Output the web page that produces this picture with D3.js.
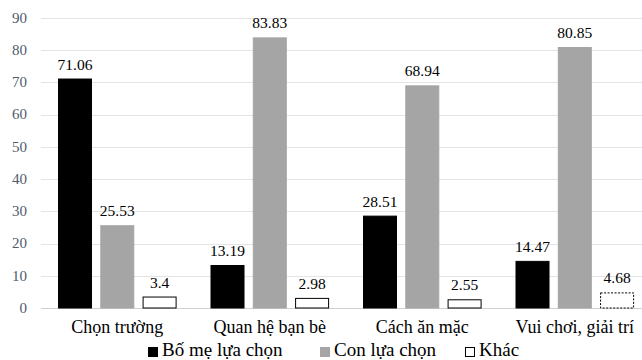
<!DOCTYPE html>
<html><head><meta charset="utf-8"><script src="https://cdn.jsdelivr.net/npm/d3@7"></script></head><body style="margin:0">
<svg id="c" width="642" height="360"></svg>
<script>
const categories = ["Chọn trường", "Quan hệ bạn bè", "Cách ăn mặc", "Vui chơi, giải trí"];
const seriesNames = ["Bố mẹ lựa chọn", "Con lựa chọn", "Khác"];
const parentValues = [71.06, 13.19, 28.51, 14.47];
const childValues = [25.53, 83.83, 68.94, 80.85];
const otherValues = [3.4, 2.98, 2.55, 4.68];
const valueLabels = [["71.06","13.19","28.51","14.47"],["25.53","83.83","68.94","80.85"],["3.4","2.98","2.55","4.68"]];
const yTicks = [0,10,20,30,40,50,60,70,80,90];

const seriesValues = [parentValues, childValues, otherValues];
const fills = ["#000000", "#a5a5a5", "#ffffff"];
const strokes = ["#000000", "#a5a5a5", "#000000"];
const FONT = "Liberation Serif";

const svg = d3.select("#c");
const y = d3.scaleLinear().domain([0, 90]).range([308, 18]);
const x0 = d3.scaleBand().domain(categories).range([41, 651]);
const x1 = d3.scaleBand().domain(d3.range(3)).range([17, 135.6]).paddingInner(0.196);

svg.append("rect").attr("width", 642).attr("height", 360).attr("fill", "#fff");

// gridlines
svg.append("g").selectAll("line").data(yTicks).join("line")
  .attr("x1", 41).attr("x2", 642)
  .attr("y1", d => Math.round(y(d)) + 0.5).attr("y2", d => Math.round(y(d)) + 0.5)
  .attr("stroke", d => d === 0 ? "#d0d0d0" : "#e4e4e4").attr("stroke-width", 1);

// y axis labels
yTicks.forEach(t => {
  svg.append("text").attr("x", 27).attr("y", y(t)).attr("dy", "0.32em")
    .attr("text-anchor", "end").attr("font-family", FONT).attr("font-size", 15)
    .attr("fill", "#4f5b6b").text(t);
});

// bars
categories.forEach((cat, ci) => {
  const gx = x0(cat);
  seriesValues.forEach((vals, si) => {
    const v = vals[ci];
    svg.append("rect")
      .attr("x", gx + x1(si) + 0.5).attr("y", y(v))
      .attr("width", x1.bandwidth() - 1).attr("height", y(0) - y(v))
      .attr("fill", fills[si]).attr("stroke", strokes[si]).attr("stroke-width", 1)
      .attr("stroke-dasharray", (si === 2 && ci === 3) ? "2,1.5" : null);
    svg.append("text")
      .attr("x", gx + x1(si) + x1.bandwidth() / 2).attr("y", y(v) - 9.5)
      .attr("text-anchor", "middle").attr("font-family", FONT)
      .attr("font-size", 15.5).attr("fill", "#000").text(valueLabels[si][ci]);
  });
  svg.append("text").attr("x", gx + x0.bandwidth() / 2).attr("y", 333)
    .attr("text-anchor", "middle").attr("font-family", FONT).attr("font-size", 18)
    .attr("fill", "#000").text(cat);
});

// legend
const legX = [148, 320, 465];
seriesNames.forEach((n, i) => {
  svg.append("rect").attr("x", legX[i] + 0.5).attr("y", 347.5).attr("width", 9).attr("height", 9)
    .attr("fill", fills[i]).attr("stroke", strokes[i]);
  svg.append("text").attr("x", legX[i] + 14).attr("y", 356).attr("font-family", FONT)
    .attr("font-size", 19).attr("fill", "#000").text(n);
});
</script>
</body></html>
